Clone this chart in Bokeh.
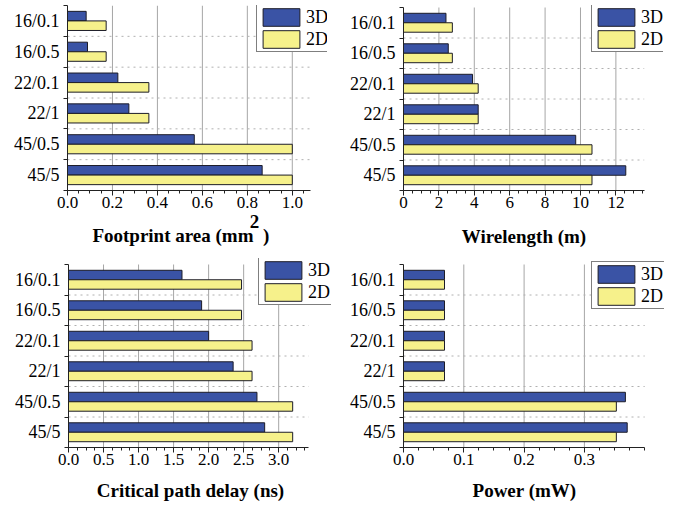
import numpy as np
from bokeh.plotting import figure
from bokeh.models import Range1d, FixedTicker, Legend, LegendItem, PrintfTickFormatter
from bokeh.layouts import column, row
from bokeh.embed import file_html
from bokeh.resources import INLINE

# ---- data ----
categories = ["16/0.1", "16/0.5", "22/0.1", "22/1", "45/0.5", "45/5"]
series = ["3D", "2D"]

footprint_3d = [0.083, 0.089, 0.224, 0.273, 0.564, 0.866]
footprint_2d = [0.172, 0.172, 0.362, 0.362, 1.0, 1.0]
wire_3d = [2.40, 2.53, 3.90, 4.22, 9.73, 12.56]
wire_2d = [2.76, 2.76, 4.22, 4.22, 10.65, 10.65]
delay_3d = [1.62, 1.90, 2.00, 2.35, 2.69, 2.80]
delay_2d = [2.47, 2.47, 2.62, 2.62, 3.20, 3.20]
power_3d = [0.068, 0.068, 0.068, 0.068, 0.368, 0.371]
power_2d = [0.068, 0.068, 0.068, 0.068, 0.353, 0.353]

footprint_ticks = [0.0, 0.2, 0.4, 0.6, 0.8, 1.0]
wire_ticks = [0, 2, 4, 6, 8, 10, 12]
delay_ticks = [0.0, 0.5, 1.0, 1.5, 2.0, 2.5, 3.0]
power_ticks = [0.0, 0.1, 0.2, 0.3]

BLUE = "#3a53a5"
YELLOW = "#f6f18b"
EDGE = "#1c1c28"
AXIS = "#222222"
FONT = "Liberation Serif"
NB = "\u00a0"


def make_panel(xlabel, v3, v2, axis_end, axis_px, ticks, minor_step, fmt,
               width, height, mbl, mbr, mbt, mbb, cat_px, legend_xy, label_standoff,
               line_height=1.2):
    frame_w = width - mbl - mbr
    frame_h = height - mbt - mbb
    n = len(categories)
    x_end = axis_end * frame_w / axis_px
    y_top = -n * (frame_h - cat_px) / cat_px
    p = figure(width=width, height=height, x_range=Range1d(0, x_end),
               y_range=Range1d(n, y_top), output_backend="svg",
               toolbar_location=None, min_border_left=mbl, min_border_right=mbr,
               min_border_top=mbt, min_border_bottom=mbb)
    p.outline_line_color = None
    p.xgrid.visible = False
    p.ygrid.visible = False

    # grid lines (drawn within the data area only)
    vt = [t for t in ticks if t > 0]
    p.segment(x0=vt, x1=vt, y0=0, y1=n, line_color="#a6a6a6", line_width=1, level="underlay")
    hb = list(range(1, n))
    p.segment(x0=0, x1=axis_end, y0=hb, y1=hb, line_color="#b0b0b0", line_width=1,
              line_dash="dotted", level="underlay")

    ypos = np.arange(n) + 0.5
    r3 = p.hbar(y=ypos - 0.155, left=0, right=v3, height=0.31,
                fill_color=BLUE, line_color=EDGE, line_width=1)
    r2 = p.hbar(y=ypos + 0.155, left=0, right=v2, height=0.31,
                fill_color=YELLOW, line_color=EDGE, line_width=1)

    minor = list(np.arange(0, axis_end + 1e-9, minor_step))
    xa = p.xaxis[0]
    xa.bounds = (0, axis_end)
    xa.ticker = FixedTicker(ticks=ticks, minor_ticks=minor)
    xa.formatter = PrintfTickFormatter(format=fmt)
    xa.major_label_text_font = FONT
    xa.major_label_text_font_size = "17px"
    xa.major_label_text_color = "black"
    xa.major_label_standoff = 1
    xa.major_tick_in = 0
    xa.major_tick_out = 5
    xa.minor_tick_in = 0
    xa.minor_tick_out = 3
    xa.axis_line_color = AXIS
    xa.major_tick_line_color = AXIS
    xa.minor_tick_line_color = AXIS
    xa.axis_label = xlabel
    xa.axis_label_text_font = FONT
    xa.axis_label_text_font_style = "bold"
    xa.axis_label_text_font_size = "19px"
    xa.axis_label_text_color = "black"
    xa.axis_label_text_line_height = line_height
    xa.axis_label_standoff = label_standoff

    ya = p.yaxis[0]
    ya.bounds = (0, n)
    ya.ticker = FixedTicker(ticks=list(ypos), minor_ticks=list(range(n + 1)))
    ya.major_label_overrides = {float(y): c for y, c in zip(ypos, categories)}
    ya.major_label_text_font = FONT
    ya.major_label_text_font_size = "18px"
    ya.major_label_text_color = "black"
    ya.major_tick_in = 0
    ya.major_tick_out = 0
    ya.minor_tick_in = 0
    ya.minor_tick_out = 4
    ya.major_label_standoff = 4
    ya.axis_line_color = AXIS
    ya.minor_tick_line_color = AXIS

    legend = Legend(items=[LegendItem(label=series[0], renderers=[r3]),
                           LegendItem(label=series[1], renderers=[r2])],
                    location=legend_xy)
    legend.border_line_color = "black"
    legend.border_line_width = 1
    legend.background_fill_color = "white"
    legend.background_fill_alpha = 1
    legend.label_text_font = FONT
    legend.label_text_font_size = "18px"
    legend.label_text_color = "black"
    legend.glyph_width = 46
    legend.glyph_height = 22
    legend.label_height = 20
    legend.label_width = 10
    legend.spacing = 0
    legend.padding = 1
    legend.margin = 0
    legend.label_standoff = 2
    p.add_layout(legend)
    return p


fp_label = NB * 24 + "2\nFootprint area (mm" + NB * 2 + ")" + NB * 7

p1 = make_panel(fp_label, footprint_3d, footprint_2d, 1.081, 243, footprint_ticks, 0.05, "%.1f",
                335, 255, 67, 8, 5, 65, 185, (189, 138), 0, line_height=0.7)
p2 = make_panel("Wirelength (m)" + NB * 4, wire_3d, wire_2d, 13.6, 240.7, wire_ticks, 0.5, "%d",
                342, 255, 68, 14, 5, 65, 183, (188, 138), 15)
p3 = make_panel("Critical path delay (ns)" + NB * 4, delay_3d, delay_2d, 3.43, 240.3, delay_ticks,
                0.125, "%.1f", 335, 251, 68, 4, 3, 59, 183, (190, 142), 12)
p4 = make_panel("Power (mW)" + NB * 4, power_3d, power_2d, 0.4, 241.2, power_ticks, 0.025, "%.1f",
                342, 251, 68, 13, 3, 59, 183, (188, 138), 12)

layout = column(row(p1, p2), row(p3, p4))
open("out.html", "w").write(file_html(layout, INLINE))
